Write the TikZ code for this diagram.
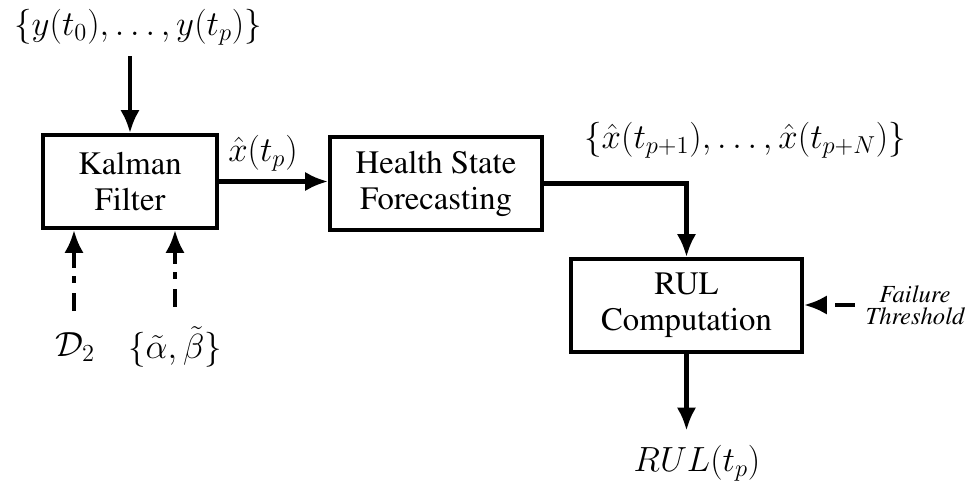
\RequirePackage{fix-cm}
\documentclass[tikz,border=0pt]{standalone}
\usepackage{amsmath,amssymb}
\usepackage[T1]{fontenc}
\usepackage{times}
\usetikzlibrary{positioning,arrows.meta}

\begin{document}
\begin{tikzpicture}
	[x=0.02cm, y=-0.02cm,
	font=\rmfamily\fontsize{18.6}{20.5}\selectfont,
	block/.style={rectangle, draw=black, line width=2.3pt, align=center, inner sep=0pt},
	lbl/.style={inner sep=0pt, font=\fontsize{19.9}{22}\selectfont},
	sig/.style={-{Latex[length=13pt,width=11pt]}, line width=2.4pt},
	aux/.style={sig, dash pattern=on 10pt off 6pt on 4pt off 4.5pt},
	]
	\useasboundingbox (0,0) rectangle (978,481);
	% blocks
	\node[block, minimum width=3.48cm, minimum height=1.86cm] (kf) at (130,181.5) {Kalman\\Filter};
	\node[block, minimum width=4.24cm, minimum height=1.86cm] (hsf) at (436,183.5) {Health State\\Forecasting};
	\node[block, minimum width=4.62cm, minimum height=1.86cm] (rul) at (686.5,305.5) {RUL\\Computation};
	% signals
	\node[lbl] (meas) at (138,27) {$\{y(t_0),\ldots,y(t_p)\}$};
	\node[lbl] (xp) at (263,153) {$\hat{x}(t_p)$};
	\node[lbl] (fc) at (745,140) {$\{\hat{x}(t_{p+1}),\ldots,\hat{x}(t_{p+N})\}$};
	\node[lbl] (out) at (697,463) {$RUL(t_p)$};
	\node[lbl] (d2) at (75,347) {$\mathcal{D}_2$};
	\node[lbl] (ab) at (175,347) {$\{\tilde{\alpha},\tilde{\beta}\}$};
	\node[lbl, align=center, font=\rmfamily\fontsize{14}{12.5}\selectfont\itshape] (ft) at (915,305) {Failure\\Threshold};
	
	\draw[sig] ([yshift=-6pt]kf.north |- meas.south) -- (kf.north);
	\draw[sig] (kf.east) -- (kf.east -| hsf.west);
	\draw[sig] (hsf.east) -| (rul.north);
	\draw[sig, shorten >=8pt] (rul.south) -- (rul.south |- out.north);
	\draw[aux, shorten <=12pt] (d2.north -| 74,0) -- (74,0 |- kf.south);
	\draw[aux, shorten <=11pt] (ab.north) -- (ab.north |- kf.south);
	\draw[sig, dash pattern=on 11pt off 20pt, shorten <=6pt] (ft.west) -- (ft.west -| rul.east);
\end{tikzpicture}
\end{document}
